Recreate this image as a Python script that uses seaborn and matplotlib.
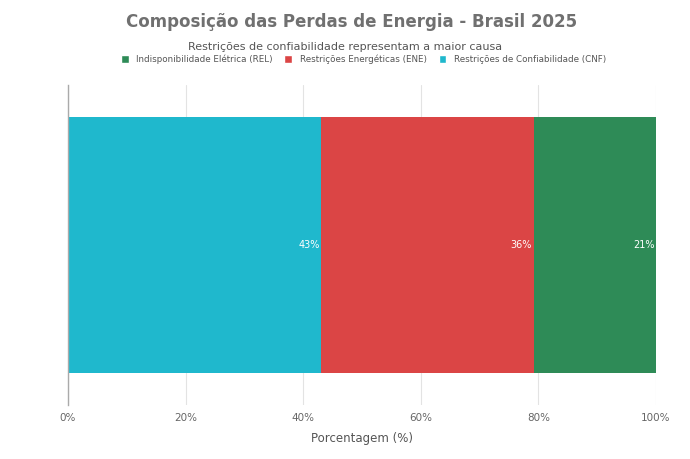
import matplotlib
matplotlib.use("Agg")
import matplotlib.pyplot as plt
import seaborn as sns
import pandas as pd
from matplotlib.patches import Patch

categories = ["Indisponibilidade Elétrica (REL)", "Restrições Energéticas (ENE)", "Restrições de Confiabilidade (CNF)"]
values = [20.8, 36.1, 43.1]
labels = ["21%", "36%", "43%"]
colors = ["#2E8B57", "#DB4545", "#1FB8CD"]
xticks = [0, 20, 40, 60, 80, 100]
xticklabels = ["0%", "20%", "40%", "60%", "80%", "100%"]

sns.set_theme(style="white")
plt.rcParams['font.family'] = ['DejaVu Sans']

fig = plt.figure(figsize=(6.9, 4.59), dpi=100)
ax = fig.add_axes([0.0986, 0.1176, 0.8522, 0.6972])

# stacking order: CNF first (left), then ENE, then REL
order = [2, 1, 0]
cum = []
s = 0
for i in order:
    s += values[i]
    cum.append(s)

# draw from largest cumulative to smallest so smaller ones overlay
for idx in range(len(order) - 1, -1, -1):
    i = order[idx]
    df = pd.DataFrame({"x": [cum[idx]], "y": ["Brasil"]})
    sns.barplot(data=df, x="x", y="y", orient="h", color=colors[i], width=0.8,
                ax=ax, saturation=1, linewidth=0, zorder=2)

for idx, i in enumerate(order):
    ax.text(cum[idx] - 0.3, 0, labels[i], ha="right", va="center",
            color="white", fontsize=7)

ax.set_xlim(0, 100)
ax.set_ylim(0.5, -0.5)
ax.set_xticks(xticks)
ax.set_xticklabels(xticklabels, color="#666666", fontsize=7.5)
ax.set_yticks([])
ax.set_ylabel("")
ax.set_xlabel("Porcentagem (%)", color="#555555", fontsize=8.5, labelpad=6)
ax.tick_params(axis="x", length=0, pad=6)
ax.grid(axis="x", color="#e3e3e3", linewidth=0.8, zorder=0)
ax.set_axisbelow(True)
for sp in ["top", "right", "bottom"]:
    ax.spines[sp].set_visible(False)
ax.spines["left"].set_color("#aaaaaa")
ax.spines["left"].set_linewidth(1.0)

fig.text(0.509, 0.951, "Composição das Perdas de Energia - Brasil 2025", ha="center", va="center",
         fontsize=12, fontweight="bold", color="#707070")
fig.text(0.5, 0.898, "Restrições de confiabilidade representam a maior causa", ha="center", va="center",
         fontsize=8, color="#555555")

handles = [Patch(facecolor=colors[i], label=categories[i]) for i in range(3)]
fig.legend(handles=handles, loc="center", bbox_to_anchor=(0.527, 0.871), ncol=3, frameon=False,
           fontsize=6.3, handlelength=0.9, handleheight=1.1, columnspacing=1.3, handletextpad=0.9,
           labelcolor="#555555")

fig.savefig("out.png", dpi=100)
